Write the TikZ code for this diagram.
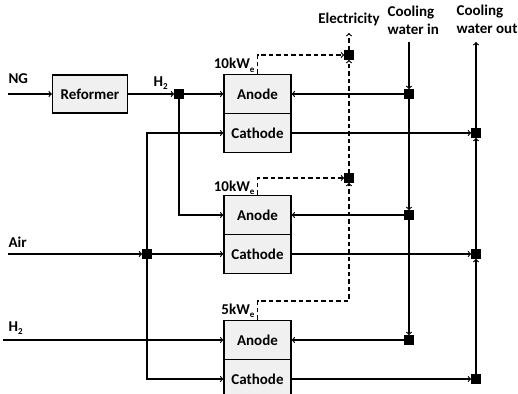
\documentclass[tikz,border=0pt]{standalone}
\usepackage{fontspec}
\setmainfont{Carlito}
\usetikzlibrary{calc}
\newcommand{\jsize}{8.5pt}
\newcommand{\lowsub}[1]{\raisebox{-0.45ex}{\fontsize{9}{9}\selectfont #1}}
\tikzset{junc/.style={rectangle, draw, fill=black, inner sep=0pt, minimum size=\jsize}}
\tikzset{cell/.style={rectangle, draw, fill=black!6, inner sep=0pt, minimum width=67pt, minimum height=39pt}}
\tikzset{empty/.style={draw=none, fill=none, inner sep=0pt}}
\tikzset{power/.style={dash pattern=on 4.5pt off 3pt, ->}}

\begin{document}
\begin{tikzpicture}[x=1pt, y=-1pt, line width=1.2pt, >=to,
  every node/.style={font=\bfseries\fontsize{15}{18}\selectfont}]

\useasboundingbox (0,0) rectangle (518,393);

\node[cell, minimum width=75pt, minimum height=38pt] (ref) at (90,94) {Reformer};
\node[cell] (an1) at (257.5,94) {Anode};
\node[cell] (ca1) at (257.5,133) {Cathode};
\node[cell] (an2) at (257.5,215) {Anode};
\node[cell] (ca2) at (257.5,254) {Cathode};
\node[cell] (an3) at (257.5,340) {Anode};
\node[cell] (ca3) at (257.5,379) {Cathode};

\node[junc] (jh) at (179,94) {};
\node[junc] (ja) at (147,254) {};
\node[junc] (je1) at (349,55) {};
\node[junc] (je2) at (349,178) {};
\node[junc] (jc1) at (409,94) {};
\node[junc] (jc2) at (409,215) {};
\node[junc] (jc3) at (409,340) {};
\node[junc] (jo1) at (476,133) {};
\node[junc] (jo2) at (476,254) {};
\node[junc] (jo3) at (476,379) {};

\coordinate (ngin) at (8,94);
\coordinate (airin) at (8,254);
\coordinate (h2in) at (3,340);
\coordinate (eout) at (349,33);
\coordinate (cwin) at (409,42);
\coordinate (cwout) at (476,42);
\coordinate (ecorner) at (349,301);

\node[empty, anchor=base west] (ng) at (8,83.5) {NG};
\node[empty, anchor=base west] (hyd) at (153,86) {H\lowsub{2}};
\node[empty, anchor=base west] (air) at (8,247.5) {Air};
\node[empty, anchor=base west] (hyd2) at (8,331) {H\lowsub{2}};
\node[empty, anchor=base east] (p1) at (255,69) {10kW\lowsub{e}};
\node[empty, anchor=base east] (p2) at (255,191) {10kW\lowsub{e}};
\node[empty, anchor=base east] (p3) at (255,314) {5kW\lowsub{e}};
\node[empty, anchor=base] (el) at (349,24) {Electricity};
\node[empty, anchor=north west, align=left] (cin) at (387,5) {Cooling\\water in};
\node[empty, anchor=north west, align=left] (cout) at (456,4) {Cooling\\water out};

% fuel and air
\draw[->] (ngin) -- (ref);
\draw[->] (ref) -- (jh);
\draw[->] (jh) -- (an1);
\draw[->] (jh) |- (an2);
\draw[->] (airin) -- (ja);
\draw[->] (ja) -- (ca2);
\draw[->] (ja) |- (ca1);
\draw[->] (ja) |- (ca3);
\draw[->] (h2in) -- (an3);

% electricity
\draw[power] (an1.north) |- (je1);
\draw[power] (an2.north) |- (je2);
\draw[power] (an3.north) |- (ecorner) -- (je2);
\draw[power] (je2) -- (je1);
\draw[power] (je1) -- (eout);

% cooling water
\draw[->] (cwin) -- (jc1);
\draw[->] (jc1) -- (jc2);
\draw[->] (jc2) -- (jc3);
\draw[->] (jc1) -- (an1);
\draw[->] (jc2) -- (an2);
\draw[->] (jc3) -- (an3);
\draw[->] (ca1) -- (jo1);
\draw[->] (ca2) -- (jo2);
\draw[->] (ca3) -- (jo3);
\draw[->] (jo3) -- (jo2);
\draw[->] (jo2) -- (jo1);
\draw[->] (jo1) -- (cwout);

\end{tikzpicture}
\end{document}
